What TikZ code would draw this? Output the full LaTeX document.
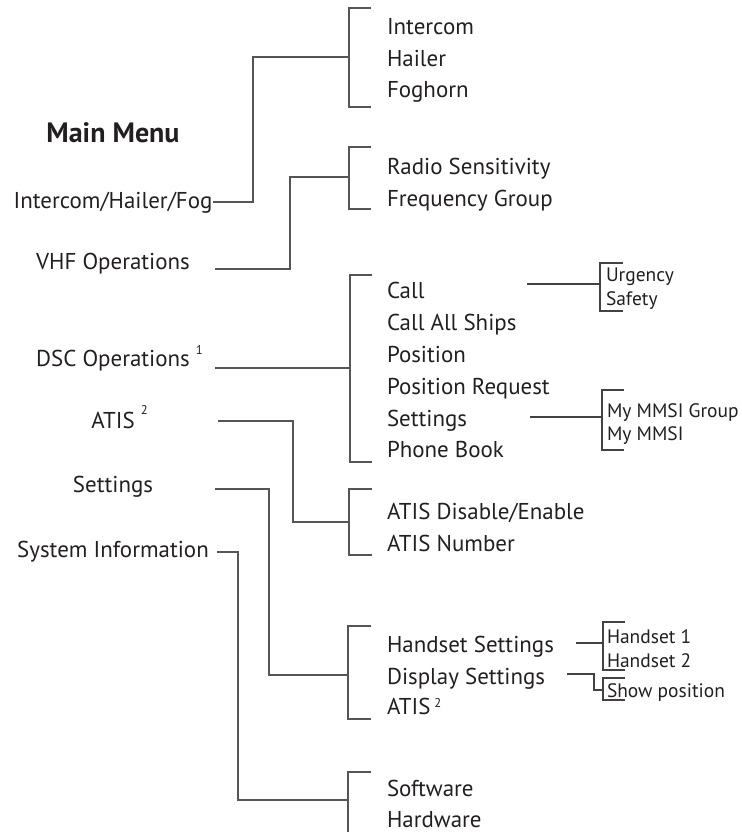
\documentclass[tikz,border=0pt]{standalone}
\usepackage{fontspec}
\setmainfont{PT Sans}
\definecolor{ink}{HTML}{231F20}
\definecolor{ln}{HTML}{555555}
\newcommand\supraise[2]{\raisebox{#1}{\fontsize{9.5}{9.5}\selectfont #2}}
\begin{document}
\begin{tikzpicture}[x=0.75pt,y=-0.75pt,
  every node/.style={inner sep=0pt,outer sep=0pt,text=ink},
  heading/.style={anchor=base,font=\fontsize{21}{24}\selectfont\bfseries},
  lefttxt/.style={anchor=base,font=\fontsize{17.2}{20}\selectfont},
  item/.style={anchor=base west,font=\fontsize{17.2}{20}\selectfont},
  subitem/.style={anchor=base west,font=\fontsize{14.6}{16}\selectfont},
  wire/.style={draw=ln,line width=1pt},
  subwire/.style={draw=ink!85,line width=0.8pt}]
\useasboundingbox (0,0) rectangle (742,832);

% main menu column
\node[heading] (mm) at (113,142) {Main Menu};
\node[lefttxt] (l1) at (113,208) {Intercom/Hailer/Fog};
\node[lefttxt] (l2) at (113,269) {VHF Operations};
\node[lefttxt] (l3) at (113,366) {DSC Operations\rlap{ \supraise{9pt}{1}}};
\node[lefttxt] (l4) at (113,428) {ATIS\rlap{ \supraise{10pt}{2}}};
\node[lefttxt] (l5) at (113,492) {Settings};
\node[lefttxt] (l6) at (113,557) {System Information};

% submenu items
\node[item] (a1) at (387,34) {Intercom};
\node[item] (a2) at (387,66) {Hailer};
\node[item] (a3) at (387,97) {Foghorn};
\node[item] (b1) at (387,174) {Radio Sensitivity};
\node[item] (b2) at (387,206) {Frequency Group};
\node[item] (c1) at (387,298) {Call};
\node[item] (c2) at (387,330) {Call All Ships};
\node[item] (c3) at (387,362) {Position};
\node[item] (c4) at (387,394) {Position Request};
\node[item] (c5) at (387,426) {Settings};
\node[item] (c6) at (387,457) {Phone Book};
\node[item] (d1) at (387,519) {ATIS Disable/Enable};
\node[item] (d2) at (387,551) {ATIS Number};
\node[item] (e1) at (387,652) {Handset Settings};
\node[item] (e2) at (387,684) {Display Settings};
\node[item] (e3) at (387,714) {ATIS\,\supraise{5pt}{2}};
\node[item] (f1) at (387,796) {Software};
\node[item] (f2) at (387,827) {Hardware};

% third level
\node[subitem] (u1) at (606,281) {Urgency};
\node[subitem] (u2) at (606,305) {Safety};
\node[subitem] (m1) at (607,417) {My MMSI Group};
\node[subitem] (m2) at (607,440) {My MMSI};
\node[subitem] (h1) at (607,643) {Handset 1};
\node[subitem] (h2) at (607,667) {Handset 2};
\node[subitem] (p1) at (607,697) {Show position};

% bracket 1
\coordinate (s1) at (213,202);
\coordinate (k1) at (253,57);
\coordinate (j1) at (349,57);
\coordinate (t1) at (371,8);
\coordinate (u1e) at (371,107);
\draw[wire] (t1) -| (j1) |- (u1e);
\draw[wire] (s1) -| (k1) -- (j1);
% bracket 2
\coordinate (s2) at (215,269);
\coordinate (k2) at (290,177);
\coordinate (j2) at (349,177);
\coordinate (t2) at (371,147);
\coordinate (u2e) at (371,209);
\draw[wire] (t2) -| (j2) |- (u2e);
\draw[wire] (s2) -| (k2) -- (j2);
% bracket 3
\coordinate (s3) at (215,368);
\coordinate (j3) at (350,368);
\coordinate (t3) at (372,275);
\coordinate (u3e) at (372,462);
\draw[wire] (t3) -| (j3) |- (u3e);
\draw[wire] (s3) -- (j3);
% bracket 4
\coordinate (s4) at (218,421);
\coordinate (k4) at (293,522);
\coordinate (j4) at (349,522);
\coordinate (t4) at (372,489);
\coordinate (u4e) at (372,555);
\draw[wire] (t4) -| (j4) |- (u4e);
\draw[wire] (s4) -| (k4) -- (j4);
% bracket 5
\coordinate (s5) at (215,489);
\coordinate (k5) at (269,675);
\coordinate (j5) at (348,675);
\coordinate (t5) at (371,626);
\coordinate (u5e) at (371,719);
\draw[wire] (t5) -| (j5) |- (u5e);
\draw[wire] (s5) -| (k5) -- (j5);
% bracket 6
\coordinate (s6) at (217,552);
\coordinate (k6) at (238,800);
\coordinate (j6) at (348,800);
\coordinate (t6) at (371,772);
\coordinate (u6e) at (348,834);
\draw[wire] (t6) -| (j6) -- (u6e);
\draw[wire] (s6) -| (k6) -- (j6);

% sub brackets
\coordinate (q1) at (527,284);
\coordinate (r1) at (600,284);
\coordinate (r1t) at (623,263);
\coordinate (r1b) at (623,311);
\draw[subwire] (r1t) -| (r1) |- (r1b);
\draw[subwire] (q1) -- (r1);

\coordinate (q2) at (530,417);
\coordinate (r2) at (602,417);
\coordinate (r2t) at (624,390);
\coordinate (r2b) at (624,450);
\draw[subwire] (r2t) -| (r2) |- (r2b);
\draw[subwire] (q2) -- (r2);

\coordinate (q3) at (576,643);
\coordinate (r3) at (603,643);
\coordinate (r3t) at (625,622);
\coordinate (r3b) at (625,670);
\draw[subwire] (r3t) -| (r3) |- (r3b);
\draw[subwire] (q3) -- (r3);

\coordinate (q4) at (567,674);
\coordinate (k7) at (594,690);
\coordinate (r4) at (603,690);
\coordinate (r4t) at (625,678);
\coordinate (r4b) at (625,700);
\draw[subwire] (r4t) -| (r4) |- (r4b);
\draw[subwire] (q4) -| (k7) -- (r4);
\end{tikzpicture}
\end{document}
